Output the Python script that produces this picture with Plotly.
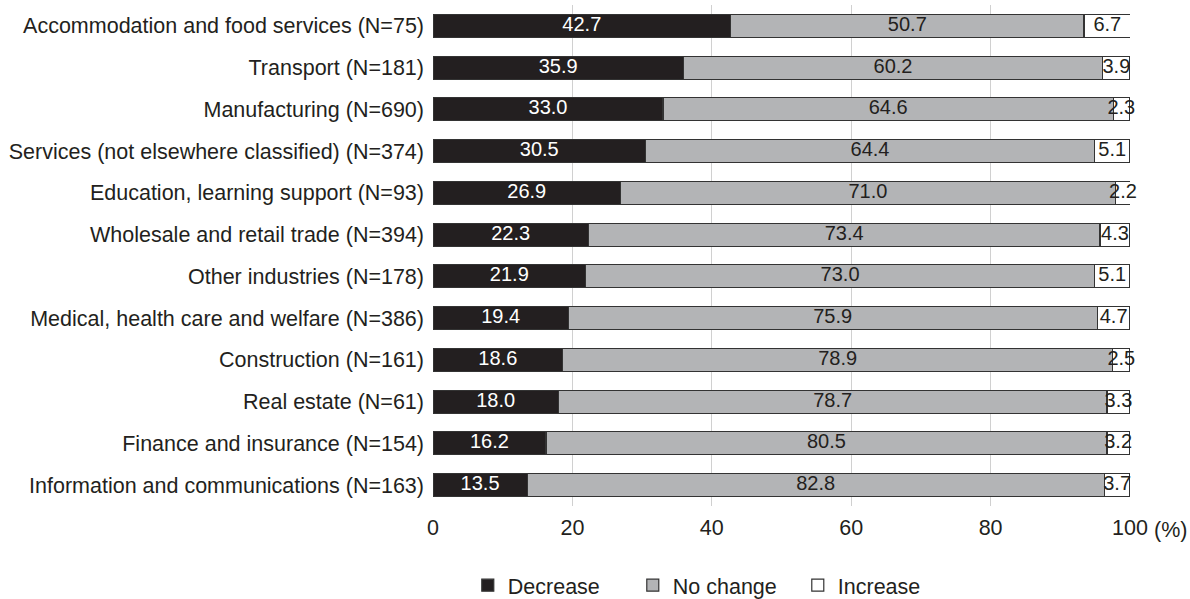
import plotly.graph_objects as go

categories = [
    "Accommodation and food services (N=75)",
    "Transport (N=181)",
    "Manufacturing (N=690)",
    "Services (not elsewhere classified) (N=374)",
    "Education, learning support (N=93)",
    "Wholesale and retail trade (N=394)",
    "Other industries (N=178)",
    "Medical, health care and welfare (N=386)",
    "Construction (N=161)",
    "Real estate (N=61)",
    "Finance and insurance (N=154)",
    "Information and communications (N=163)",
]
decrease = [42.7, 35.9, 33.0, 30.5, 26.9, 22.3, 21.9, 19.4, 18.6, 18.0, 16.2, 13.5]
no_change = [50.7, 60.2, 64.6, 64.4, 71.0, 73.4, 73.0, 75.9, 78.9, 78.7, 80.5, 82.8]
increase = [6.7, 3.9, 2.3, 5.1, 2.2, 4.3, 5.1, 4.7, 2.5, 3.3, 3.2, 3.7]
x_ticks = [0, 20, 40, 60, 80, 100]

FONT = "Liberation Sans, Arial, sans-serif"
INK = "#231f20"
series = [
    ("Decrease", decrease, INK, "#ffffff"),
    ("No change", no_change, "#b3b4b6", INK),
    ("Increase", increase, "#ffffff", INK),
]

fig = go.Figure()
base = [0.0] * len(categories)
for name, vals, fill, txt in series:
    fig.add_trace(go.Bar(
        name=name,
        y=categories,
        x=vals,
        orientation="h",
        marker=dict(color=fill, line=dict(color="#333333", width=1.2)),
    ))
    # value labels centred on each segment, never shrunk
    centers = [b + v / 2 for b, v in zip(base, vals)]
    fig.add_trace(go.Scatter(
        x=centers,
        y=categories,
        mode="text",
        text=[f"{v:.1f}" for v in vals],
        textposition="middle center",
        textfont=dict(family=FONT, size=20, color=txt),
        cliponaxis=False,
        showlegend=False,
        hoverinfo="skip",
    ))
    base = [b + v for b, v in zip(base, vals)]

fig.add_annotation(
    x=100, y=0, xref="x", yref="paper", text="(%)", showarrow=False,
    xanchor="left", yanchor="middle", xshift=22, yshift=-24,
    font=dict(family=FONT, size=21.5, color=INK),
)

fig.update_layout(
    barmode="stack",
    bargap=0.45,
    width=1190,
    height=599,
    margin=dict(l=433, r=60, t=5, b=93, autoexpand=False),
    plot_bgcolor="#ffffff",
    paper_bgcolor="#ffffff",
    font=dict(family=FONT, size=21.5, color=INK),
    legend=dict(
        orientation="h", x=0.405, xanchor="center", y=-0.158, yanchor="middle",
        font=dict(family=FONT, size=21.5, color=INK),
        traceorder="normal", itemwidth=30,
        entrywidth=120, entrywidthmode="pixels",
    ),
    xaxis=dict(
        range=[0, 100], tickvals=x_ticks, ticktext=[str(t) for t in x_ticks],
        showgrid=True, gridcolor="#d0d0d0", gridwidth=1, zeroline=False,
        showline=False, ticks="", ticklabelstandoff=6,
        tickfont=dict(family=FONT, size=21.5, color=INK),
    ),
    yaxis=dict(
        range=[len(categories) - 0.5, -0.5], showgrid=False, ticks="", showline=False,
        ticklabelstandoff=8,
        tickfont=dict(family=FONT, size=21.5, color=INK),
    ),
)

fig.write_html("out.html")
